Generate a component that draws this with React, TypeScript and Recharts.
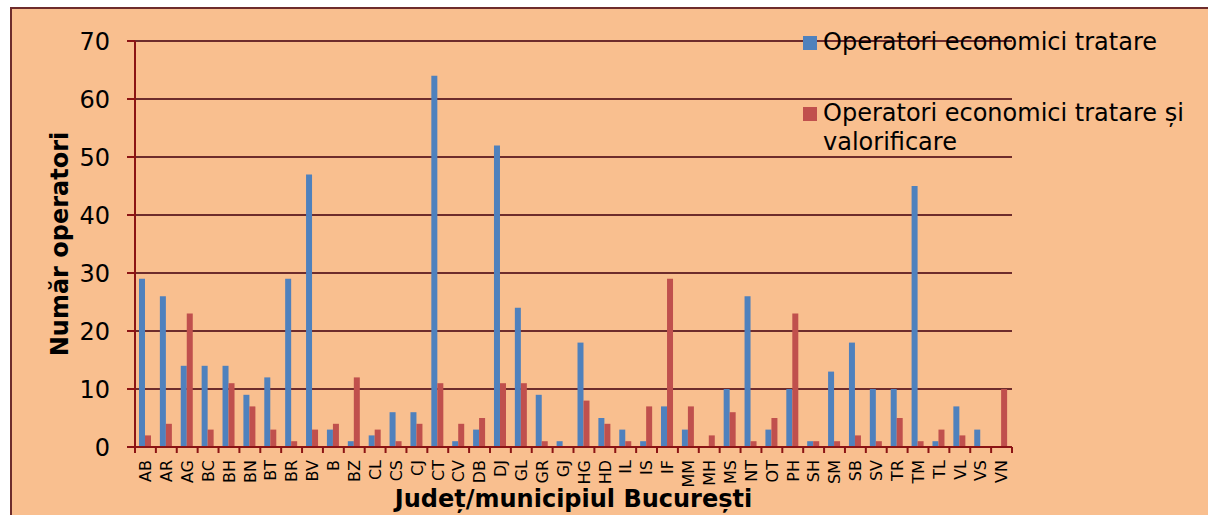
import { BarChart, Bar, XAxis, YAxis, CartesianGrid, Legend } from "recharts";

const judete = [
  "AB", "AR", "AG", "BC", "BH", "BN", "BT", "BR", "BV", "B", "BZ", "CL", "CS", "CJ",
  "CT", "CV", "DB", "DJ", "GL", "GR", "GJ", "HG", "HD", "IL", "IS", "IF", "MM", "MH",
  "MS", "NT", "OT", "PH", "SH", "SM", "SB", "SV", "TR", "TM", "TL", "VL", "VS", "VN",
];

const tratare = [
  29, 26, 14, 14, 14, 9, 12, 29, 47, 3, 1, 2, 6, 6,
  64, 1, 3, 52, 24, 9, 1, 18, 5, 3, 1, 7, 3, 0,
  10, 26, 3, 10, 1, 13, 18, 10, 10, 45, 1, 7, 3, 0,
];

const tratareValorificare = [
  2, 4, 23, 3, 11, 7, 3, 1, 3, 4, 12, 3, 1, 4,
  11, 4, 5, 11, 11, 1, 0, 8, 4, 1, 7, 29, 7, 2,
  6, 1, 5, 23, 1, 1, 2, 1, 5, 1, 3, 2, 0, 10,
];

const yTicks = [0, 10, 20, 30, 40, 50, 60, 70];

const seriesNames = [
  "Operatori economici tratare",
  "Operatori economici tratare și valorificare",
];

const data = judete.map((j, i) => ({
  judet: j,
  tratare: tratare[i],
  valorificare: tratareValorificare[i],
}));

const BLUE = "#4F81BD";
const RED = "#C0504D";
const BG = "#F9BF8F";
const GRID = "#6E2C2C";
const AXIS = "#8B1414";
const FONT = "'DejaVu Sans', Verdana, sans-serif";

const W = 1208;
const H = 515;
const MARGIN = { top: 41, right: 196, bottom: 18, left: 75 };
const PLOT_W = W - MARGIN.left - MARGIN.right - 60;
const BAND = PLOT_W / judete.length;

const XTick = (props: any) => {
  const { x, y, payload, index } = props;
  const last = index === judete.length - 1;
  return (
    <g transform={`translate(${x},${y})`}>
      <line x1={-BAND / 2} y1={-8} x2={-BAND / 2} y2={-2} stroke={AXIS} strokeWidth={2} />
      {last && (
        <line x1={BAND / 2} y1={-8} x2={BAND / 2} y2={-2} stroke={AXIS} strokeWidth={2} />
      )}
      <text
        x={0}
        y={0}
        dy="0.36em"
        transform="rotate(-90) translate(-5,0)"
        textAnchor="end"
        fontSize={16}
        fontFamily={FONT}
        fill="#000"
      >
        {payload.value}
      </text>
    </g>
  );
};

const YTitle = (props: any) => {
  const { viewBox } = props;
  const cx = viewBox.x - 15;
  const cy = viewBox.y + viewBox.height / 2;
  return (
    <text
      x={cx}
      y={cy}
      transform={`rotate(-90, ${cx}, ${cy})`}
      textAnchor="middle"
      dominantBaseline="central"
      fontSize={24}
      fontWeight="bold"
      fontFamily={FONT}
      fill="#000"
    >
      Număr operatori
    </text>
  );
};

const XTitle = (props: any) => {
  const { viewBox } = props;
  return (
    <text
      x={viewBox.x + viewBox.width / 2}
      y={507}
      textAnchor="middle"
      fontSize={24}
      fontWeight="bold"
      fontFamily={FONT}
      fill="#000"
    >
      Județ/municipiul București
    </text>
  );
};

const LegendBox = () => {
  const colors = [BLUE, RED];
  return (
    <div style={{ fontFamily: FONT, fontSize: 24, color: "#000", lineHeight: "29px" }}>
      {seriesNames.map((name, i) => (
        <div
          key={name}
          style={{ display: "flex", alignItems: "flex-start", marginBottom: i === 0 ? 42 : 0 }}
        >
          <span
            style={{
              display: "inline-block",
              width: 14,
              height: 14,
              background: colors[i],
              marginTop: 8,
              marginRight: 6,
              flex: "none",
            }}
          />
          <span style={{ width: 372 }}>{name}</span>
        </div>
      ))}
    </div>
  );
};

export default function App() {
  return (
    <div style={{ position: "fixed", left: 0, top: 0, width: W, height: H, background: "#fff", overflow: "hidden" }}>
      <div
        style={{
          position: "absolute",
          left: 10,
          top: 7,
          width: 1220,
          height: 530,
          background: BG,
          border: `2px solid ${GRID}`,
        }}
      />
      <div style={{ position: "absolute", left: 0, top: 0 }}>
        <BarChart width={W} height={H} data={data} margin={MARGIN} barGap={0} barSize={6}>
          <CartesianGrid vertical={false} stroke={GRID} strokeWidth={2} />
          <XAxis
            dataKey="judet"
            interval={0}
            height={50}
            stroke={AXIS}
            strokeWidth={2}
            tickLine={false}
            tick={<XTick />}
            label={<XTitle />}
          />
          <YAxis
            width={60}
            domain={[0, 70]}
            ticks={yTicks}
            interval={0}
            stroke={AXIS}
            strokeWidth={2}
            tickSize={8}
            tickMargin={17}
            tick={{ fontSize: 24, fontFamily: FONT, fill: "#000" }}
            label={<YTitle />}
          />
          <Legend
            layout="vertical"
            align="center"
            verticalAlign="middle"
            content={<LegendBox />}
            wrapperStyle={{ left: 803, top: 28, width: 405 }}
          />
          <Bar dataKey="tratare" name={seriesNames[0]} fill={BLUE} isAnimationActive={false} />
          <Bar dataKey="valorificare" name={seriesNames[1]} fill={RED} isAnimationActive={false} />
        </BarChart>
      </div>
    </div>
  );
}
